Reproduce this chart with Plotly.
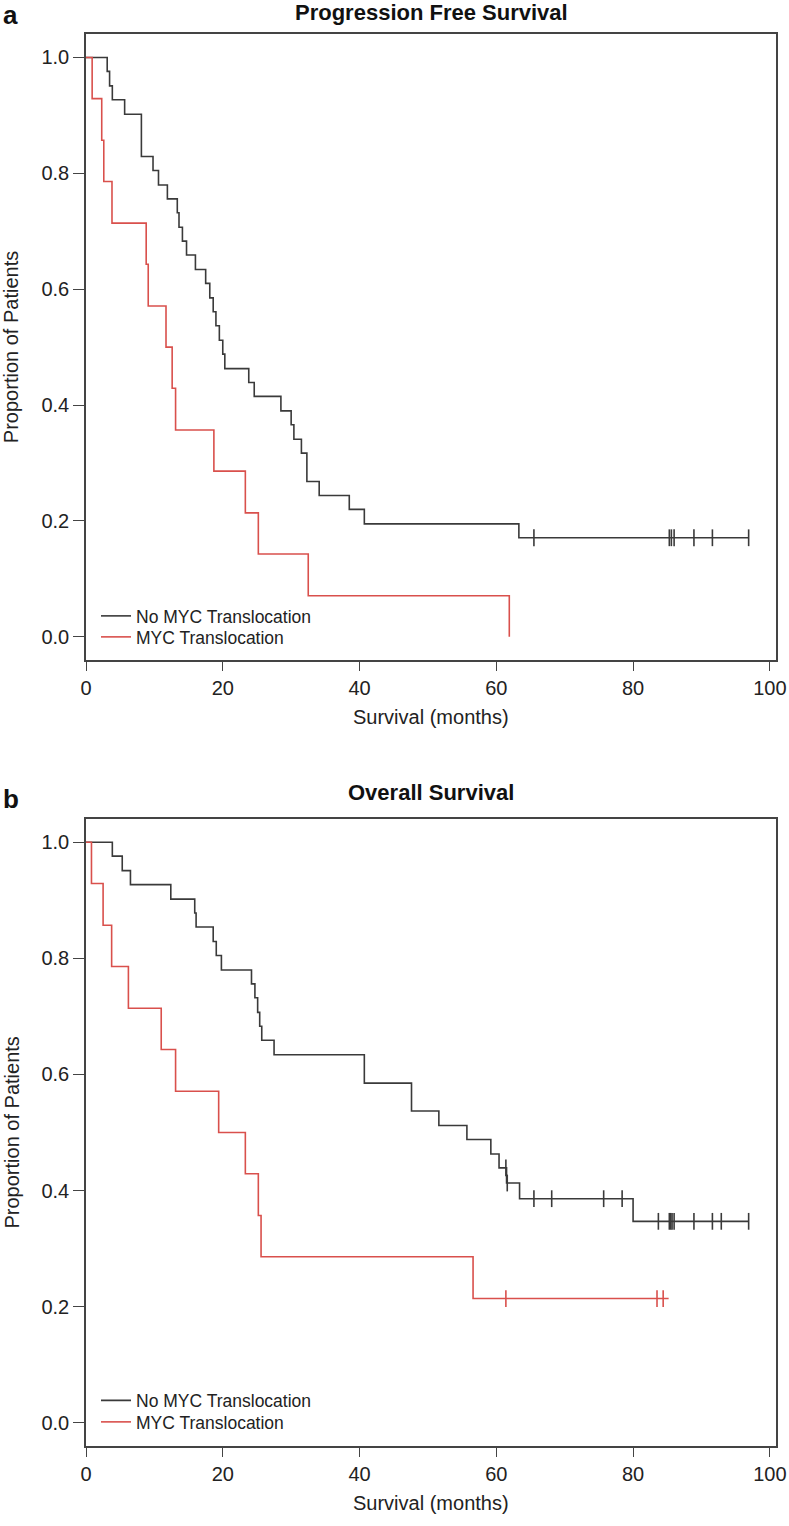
import plotly.graph_objects as go

# ---------------- data ----------------
# Panel a: Progression Free Survival (Kaplan-Meier step points)
pfs_no_time = [0, 3.1, 3.45, 3.85, 5.65, 8.1, 9.8, 10.6, 11.9, 13.35, 13.6, 14.1, 14.7, 16.0, 17.5,
               18.1, 18.6, 19.0, 19.5, 20.0, 20.3, 23.8, 24.6, 28.5, 30.0, 30.4, 31.5, 32.3, 34.1,
               38.5, 40.7, 63.3, 96.9]
pfs_no_surv = [1.0, 0.976, 0.951, 0.927, 0.902, 0.829, 0.805, 0.780, 0.756, 0.732, 0.707, 0.683,
               0.659, 0.634, 0.610, 0.585, 0.561, 0.537, 0.512, 0.488, 0.463, 0.439, 0.415, 0.390,
               0.366, 0.341, 0.317, 0.268, 0.244, 0.220, 0.195, 0.171, 0.171]
pfs_no_cens_time = [65.5, 85.3, 85.6, 86.0, 88.9, 91.6, 96.9]
pfs_no_cens_surv = [0.171, 0.171, 0.171, 0.171, 0.171, 0.171, 0.171]

pfs_myc_time = [0, 0.9, 2.3, 2.6, 3.8, 8.8, 9.1, 11.7, 12.6, 13.1, 18.7, 23.3, 25.2, 32.5, 61.9]
pfs_myc_surv = [1.0, 0.929, 0.857, 0.786, 0.714, 0.643, 0.571, 0.500, 0.429, 0.357, 0.286, 0.214,
                0.143, 0.071, 0.0]

# Panel b: Overall Survival
os_no_time = [0, 3.85, 5.3, 6.5, 12.4, 15.9, 16.1, 18.6, 19.05, 19.8, 24.2, 24.7, 25.1, 25.4, 25.7,
              27.5, 40.7, 47.6, 51.6, 55.7, 59.2, 60.4, 61.5, 63.4, 80.0, 96.9]
os_no_surv = [1.0, 0.976, 0.951, 0.927, 0.902, 0.878, 0.854, 0.829, 0.805, 0.780, 0.756, 0.732,
              0.707, 0.683, 0.659, 0.634, 0.585, 0.537, 0.512, 0.488, 0.463, 0.439, 0.413, 0.386,
              0.347, 0.347]
os_no_cens_time = [61.4, 61.6, 65.5, 68.1, 75.7, 78.4, 83.7, 85.3, 85.5, 85.7, 86.0, 88.9, 91.6,
                   92.9, 96.9]
os_no_cens_surv = [0.439, 0.413, 0.386, 0.386, 0.386, 0.386, 0.347, 0.347, 0.347, 0.347, 0.347,
                   0.347, 0.347, 0.347, 0.347]

os_myc_time = [0, 0.8, 2.5, 3.75, 6.2, 11.0, 13.1, 19.4, 23.3, 25.2, 25.6, 56.6, 85.2]
os_myc_surv = [1.0, 0.929, 0.857, 0.786, 0.714, 0.643, 0.571, 0.500, 0.429, 0.357, 0.286, 0.214,
               0.214]
os_myc_cens_time = [61.4, 83.5, 84.4]
os_myc_cens_surv = [0.214, 0.214, 0.214]

series_names = ["No MYC Translocation", "MYC Translocation"]
panel_titles = ["Progression Free Survival", "Overall Survival"]
panel_letters = ["a", "b"]
x_ticks = [0, 20, 40, 60, 80, 100]
y_ticks = [0.0, 0.2, 0.4, 0.6, 0.8, 1.0]
x_title = "Survival (months)"
y_title = "Proportion of Patients"

# ---------------- styling ----------------
W, H = 789, 1526
BLACK = "#3a3a3a"
RED = "#d9504c"
FRAME = "#444444"
FONT = "Liberation Sans, Arial, sans-serif"

L, R = 86, 776          # plot area left/right (px)
panels = [
    dict(top=34.3, bot=660.0, title_y=12.0, letter_y=15.0, leg_y=(616, 637)),
    dict(top=819.0, bot=1446.0, title_y=792.5, letter_y=799.0, leg_y=(1400.5, 1422)),
]


def py(px):
    return 1 - px / H


def pxx(px):
    return (px - L) / (R - L)


fig = go.Figure()
legend_ids = [["legend", "legend2"], ["legend3", "legend4"]]


def add_panel(idx, no_t, no_s, nc_t, nc_s, my_t, my_s, mc_t, mc_s):
    xa = "x" if idx == 0 else "x2"
    ya = "y" if idx == 0 else "y2"
    lg = legend_ids[idx]
    fig.add_trace(go.Scatter(x=no_t, y=no_s, mode="lines", line=dict(shape="hv", color=BLACK, width=1.6),
                             name=series_names[0], xaxis=xa, yaxis=ya, legend=lg[0], hoverinfo="skip"))
    fig.add_trace(go.Scatter(x=my_t, y=my_s, mode="lines", line=dict(shape="hv", color=RED, width=1.6),
                             name=series_names[1], xaxis=xa, yaxis=ya, legend=lg[1], hoverinfo="skip"))
    fig.add_trace(go.Scatter(x=nc_t, y=nc_s, mode="markers", showlegend=False, xaxis=xa, yaxis=ya,
                             marker=dict(symbol="line-ns", size=12, line=dict(color=BLACK, width=1.6)),
                             hoverinfo="skip"))
    if mc_t:
        fig.add_trace(go.Scatter(x=mc_t, y=mc_s, mode="markers", showlegend=False, xaxis=xa, yaxis=ya,
                                 marker=dict(symbol="line-ns", size=12, line=dict(color=RED, width=1.6)),
                                 hoverinfo="skip"))


add_panel(0, pfs_no_time, pfs_no_surv, pfs_no_cens_time, pfs_no_cens_surv,
          pfs_myc_time, pfs_myc_surv, [], [])
add_panel(1, os_no_time, os_no_surv, os_no_cens_time, os_no_cens_surv,
          os_myc_time, os_myc_surv, os_myc_cens_time, os_myc_cens_surv)

xaxis_common = dict(range=[0, 100.9], tickvals=x_ticks, ticktext=[str(v) for v in x_ticks],
                    showline=True, mirror=True, linecolor=FRAME, linewidth=1.6,
                    ticks="outside", ticklen=9, tickwidth=1.4, tickcolor=FRAME,
                    showgrid=False, zeroline=False,
                    tickfont=dict(family=FONT, size=20, color="#222222"))
yaxis_common = dict(range=[-0.04, 1.04], tickvals=y_ticks, ticktext=[f"{v:.1f}" for v in y_ticks],
                    showline=True, mirror=True, linecolor=FRAME, linewidth=1.6,
                    ticks="outside", ticklen=11, tickwidth=1.4, tickcolor=FRAME,
                    showgrid=False, zeroline=False,
                    tickfont=dict(family=FONT, size=20, color="#222222"))

legend_common = dict(font=dict(family=FONT, size=17.5, color="#222222"), bgcolor="rgba(0,0,0,0)",
                     xanchor="left", yanchor="middle", itemwidth=30)

p0, p1 = panels
fig.update_layout(
    width=W, height=H,
    margin=dict(l=L, r=W - R, t=0, b=0),
    paper_bgcolor="white", plot_bgcolor="white",
    xaxis=dict(xaxis_common, domain=[0, 1], anchor="y"),
    yaxis=dict(yaxis_common, domain=[py(p0["bot"]), py(p0["top"])], anchor="x"),
    xaxis2=dict(xaxis_common, domain=[0, 1], anchor="y2"),
    yaxis2=dict(yaxis_common, domain=[py(p1["bot"]), py(p1["top"])], anchor="x2"),
    legend=dict(legend_common, x=pxx(96), y=py(p0["leg_y"][0])),
    legend2=dict(legend_common, x=pxx(96), y=py(p0["leg_y"][1])),
    legend3=dict(legend_common, x=pxx(96), y=py(p1["leg_y"][0])),
    legend4=dict(legend_common, x=pxx(96), y=py(p1["leg_y"][1])),
    showlegend=True,
)

ann = []
for i, p in enumerate(panels):
    top, bot = p["top"], p["bot"]
    y1 = top + 0.04 / 1.08 * (bot - top)
    y0 = bot - 0.04 / 1.08 * (bot - top)
    ann.append(dict(text=f"<b>{panel_titles[i]}</b>", x=pxx(431), y=py(p["title_y"]), xref="paper",
                    yref="paper", showarrow=False, font=dict(family=FONT, size=22, color="#111111"),
                    xanchor="center", yanchor="middle"))
    ann.append(dict(text=f"<b>{panel_letters[i]}</b>", x=pxx(1), y=py(p["letter_y"]), xref="paper",
                    yref="paper", showarrow=False, font=dict(family=FONT, size=26, color="#111111"),
                    xanchor="left", yanchor="middle"))
    ann.append(dict(text=x_title, x=pxx(431), y=py(bot + 57), xref="paper", yref="paper",
                    showarrow=False, font=dict(family=FONT, size=20, color="#222222"),
                    xanchor="center", yanchor="middle"))
    ann.append(dict(text=y_title, x=pxx(11), y=py((y0 + y1) / 2), xref="paper", yref="paper",
                    showarrow=False, textangle=-90, font=dict(family=FONT, size=20, color="#222222"),
                    xanchor="center", yanchor="middle"))
fig.update_layout(annotations=ann)

# remove the browser's default 8px body margin so the figure sits at the window origin
fig.write_html("out.html", config={"displayModeBar": False},
               post_script="document.body.style.margin='0';")
